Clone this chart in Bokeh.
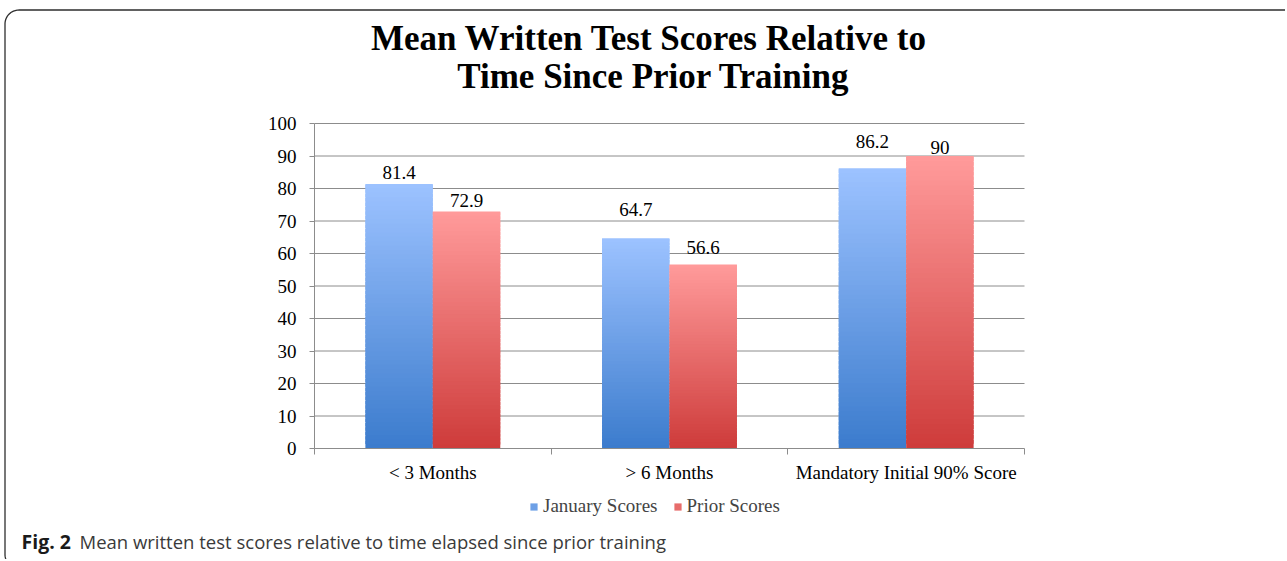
import numpy as np
from bokeh.plotting import figure
from bokeh.models import Range1d, FixedTicker, Legend, LegendItem, ColumnDataSource
from bokeh.embed import file_html
from bokeh.resources import INLINE
from bokeh.core.properties import value

# ---------------- data ----------------
categories = ["< 3 Months", "> 6 Months", "Mandatory Initial 90% Score"]
january_scores = [81.4, 64.7, 86.2]
prior_scores = [72.9, 56.6, 90]
series_names = ["January Scores", "Prior Scores"]
y_ticks = [0, 10, 20, 30, 40, 50, 60, 70, 80, 90, 100]
title_lines = ["Mean  Written Test Scores Relative to", "Time Since Prior Training"]
caption_bold = "Fig. 2"
caption_text = "Mean written test scores relative to time elapsed since prior training"

# ---------------- layout / styles (page pixels) ----------------
W, H = 1285, 559
PX_L, PX_R, PX_T, PX_B = 314, 1024, 123, 448     # plot area on the page
BAR_W = 0.285
N_SLICES = 60
BLUE_TOP, BLUE_BOTTOM = (0x9C, 0xC2, 0xFF), (0x3C, 0x7C, 0xCD)
RED_TOP, RED_BOTTOM = (0xFF, 0x9A, 0x9A), (0xCE, 0x3C, 0x3B)
jan_label_lift = [11, 29, 27]      # px above bar top
prior_label_lift = [11, 17, 9]
SERIF = "Liberation Serif"
SANS = "Open Sans"
GRID = "#8c8c8c"
FRAME_COL = "#2e2e2e"
BX, BY, BR, BBOT = 4.5, 9.5, 14, 568   # outer rounded frame
BASE_FIX = 0.35                        # em shift for alphabetic baseline in svg

n = len(categories)
y_max = y_ticks[-1]
x_per_px = n / (PX_R - PX_L)
y_per_px = y_max / (PX_B - PX_T)
X0, X1 = -PX_L * x_per_px, n + (W - PX_R) * x_per_px
YT, YB = y_max + PX_T * y_per_px, -(H - PX_B) * y_per_px


def px_x(px):
    return X0 + np.asarray(px, dtype=float) * x_per_px


def px_y(py):
    return YT - np.asarray(py, dtype=float) * y_per_px


def gradient_source(values, shift, top_rgb, bottom_rgb):
    d = dict(left=[], right=[], bottom=[], top=[], color=[])
    for i, v in enumerate(values):
        c = i + 0.5 + shift
        for k in range(N_SLICES):
            t = k / (N_SLICES - 1)
            rgb = tuple(round(b + (tp - b) * t) for b, tp in zip(bottom_rgb, top_rgb))
            d["left"].append(c - BAR_W / 2)
            d["right"].append(c + BAR_W / 2)
            d["bottom"].append(v * k / N_SLICES)
            d["top"].append(min(v, v * (k + 1.8) / N_SLICES))
            d["color"].append("#%02x%02x%02x" % rgb)
    return ColumnDataSource(d)


p = figure(width=W, height=H, x_range=Range1d(X0, X1), y_range=Range1d(YB, YT),
           min_border=0, output_backend="svg", toolbar_location=None,
           outline_line_color=None, background_fill_color="white",
           border_fill_color="white")
p.grid.visible = False

# horizontal gridlines across the plot area only
p.segment(x0=[0] * (len(y_ticks) - 1), x1=[n] * (len(y_ticks) - 1),
          y0=y_ticks[1:], y1=y_ticks[1:], line_color=GRID, line_width=1)

# y axis, pinned at x = 0
ya = p.yaxis[0]
ya.fixed_location = 0
ya.bounds = (0, y_max)
ya.ticker = FixedTicker(ticks=y_ticks)
ya.axis_line_color = GRID
ya.major_tick_line_color = GRID
ya.major_tick_out = 5
ya.major_tick_in = 0
ya.minor_tick_out = 0
ya.minor_tick_in = 0
ya.major_label_standoff = 13
ya.major_label_text_font = SERIF
ya.major_label_text_font_size = "19px"
ya.major_label_text_color = "#000000"

# x axis, pinned at y = 0; labels at centres, tick marks at category boundaries
xa = p.xaxis[0]
xa.fixed_location = 0
xa.bounds = (0, n)
centres = [i + 0.5 for i in range(n)]
xa.ticker = FixedTicker(ticks=centres, minor_ticks=list(range(n + 1)))
xa.major_label_overrides = {c: lab for c, lab in zip(centres, categories)}
xa.axis_line_color = GRID
xa.major_tick_out = 0
xa.major_tick_in = 0
xa.minor_tick_out = 6
xa.minor_tick_in = 0
xa.minor_tick_line_color = GRID
xa.major_label_standoff = 7
xa.major_label_text_font = SERIF
xa.major_label_text_font_size = "19px"
xa.major_label_text_color = "#000000"

# bars with a vertical gradient
src_j = gradient_source(january_scores, -BAR_W / 2, BLUE_TOP, BLUE_BOTTOM)
src_p = gradient_source(prior_scores, BAR_W / 2, RED_TOP, RED_BOTTOM)
r_j = p.quad(left="left", right="right", bottom="bottom", top="top", source=src_j,
             fill_color="color", line_color=None)
r_p = p.quad(left="left", right="right", bottom="bottom", top="top", source=src_p,
             fill_color="color", line_color=None)

# value labels
for vals, shift, lift in ((january_scores, -BAR_W / 2, jan_label_lift),
                          (prior_scores, BAR_W / 2, prior_label_lift)):
    src = ColumnDataSource(dict(
        x=[i + 0.5 + shift for i in range(n)],
        y=vals,
        t=[f"{v:g}" for v in vals],
        dy=[-l for l in lift]))
    p.text(x="x", y="y", text="t", y_offset="dy", source=src,
           text_align="center", text_baseline="alphabetic",
           text_font=value(SERIF), text_font_size="19px", text_color="#000000")

# legend below the axis
legend = Legend(items=[LegendItem(label=series_names[0], renderers=[r_j], index=N_SLICES // 2),
                       LegendItem(label=series_names[1], renderers=[r_p], index=N_SLICES // 2)],
                orientation="horizontal", location=(529, 42),
                glyph_width=9, glyph_height=9, label_standoff=5, spacing=15,
                padding=0, margin=0, border_line_color=None, background_fill_alpha=0,
                label_text_font=SERIF, label_text_font_size="19px")
p.add_layout(legend, "center")

# title
p.text(x=px_x([653, 653]), y=px_y([50 - BASE_FIX * 35, 88 - BASE_FIX * 35]), text=title_lines,
       text_align="center", text_baseline="alphabetic", text_font=value(SERIF),
       text_font_style="bold", text_font_size="35px", text_color="#000000")

# caption
p.text(x=px_x([21]), y=px_y([547.5 - BASE_FIX * 19]), text=[caption_bold],
       text_align="left", text_baseline="alphabetic", text_font=value(SANS),
       text_font_style="bold", text_font_size="19.5px", text_color="#1a1a1a")
p.text(x=px_x([79]), y=px_y([547.5 - BASE_FIX * 18.5]), text=[caption_text],
       text_align="left", text_baseline="alphabetic", text_font=value(SANS),
       text_font_size="18.5px", text_color="#3a3a3a")

# outer rounded frame (top-left corner, top and left edges)
a1 = np.linspace(np.pi, 1.5 * np.pi, 24)
a2 = np.linspace(0.5 * np.pi, np.pi, 24)
fx = ([W + 5] + [BX + BR] + list(BX + BR + BR * np.cos(a1[::-1])) +
      list(BX + BR + BR * np.cos(a2[::-1])) + [BX + BR])
fy = ([BY] + [BY] + list(BY + BR + BR * np.sin(a1[::-1])) +
      list(BBOT - BR + BR * np.sin(a2[::-1])) + [BBOT])
p.line(px_x(fx), px_y(fy), line_color=FRAME_COL, line_width=1.3)

open("out.html", "w").write(file_html(p, INLINE))
